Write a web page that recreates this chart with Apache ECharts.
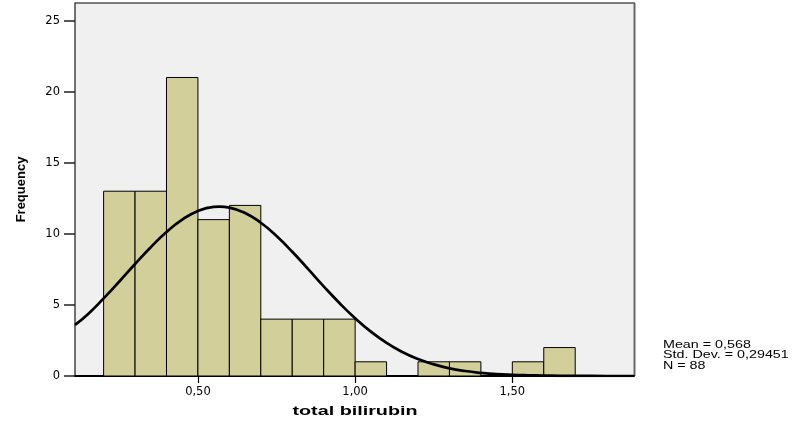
<!DOCTYPE html>
<html><head><meta charset="utf-8">
<script src="https://cdn.jsdelivr.net/npm/echarts@6/dist/echarts.min.js"></script>
<style>html,body{margin:0;padding:0;background:#fff}#c{width:796px;height:427px}</style>
</head><body><div id="c"></div>
<script>
// Histogram bins (lower edge, upper edge) and counts
const binStarts = [0.2,0.3,0.4,0.5,0.6,0.7,0.8,0.9,1.0,1.1,1.2,1.3,1.4,1.5,1.6];
const binEnds   = [0.3,0.4,0.5,0.6,0.7,0.8,0.9,1.0,1.1,1.2,1.3,1.4,1.5,1.6,1.7];
const counts    = [13,13,21,11,12,4,4,4,1,0,1,1,0,1,2];
// Normal curve
const curveX = [0.109,0.15,0.20,0.25,0.30,0.35,0.40,0.45,0.50,0.55,0.568,0.60,0.65,0.70,0.75,0.80,0.85,0.90,0.95,1.00,1.05,1.10,1.15,1.20,1.25,1.30,1.35,1.40,1.45,1.50,1.55,1.60,1.65,1.70,1.80,1.887];
const curveY = [3.60,4.35,5.46,6.65,7.88,9.06,10.13,11.00,11.61,11.90,11.92,11.85,11.47,10.78,9.85,8.74,7.54,6.31,5.14,4.06,3.12,2.33,1.69,1.19,0.82,0.54,0.35,0.22,0.13,0.08,0.05,0.03,0.015,0.01,0.0,0.0];
const xTicks = [0.5,1.0,1.5];
const yTicks = [0,5,10,15,20,25];
const statsLines = ['Mean = 0,568','Std. Dev. = 0,29451','N = 88'];
const xTitle = 'total bilirubin';
const yTitle = 'Frequency';

const barData = binStarts.map((s,i)=>[s,binEnds[i],counts[i]]);
const lineData = curveX.map((x,i)=>[x,curveY[i]]);
const font = '"Liberation Sans", Arial, sans-serif';
const tickFont = '"DejaVu Sans", sans-serif';

const chart = echarts.init(document.getElementById('c'));
chart.setOption({
  animation:false,
  backgroundColor:'#fff',
  grid:{left:75,right:162,top:3,bottom:51,show:true,backgroundColor:'#f0f0f0',borderWidth:0},
  xAxis:{type:'value',min:0.109,max:1.887,
    axisLine:{show:true,onZero:false,lineStyle:{color:'#000',width:2}},
    axisTick:{show:true,length:7,customValues:xTicks,lineStyle:{color:'#000',width:1.2}},
    axisLabel:{customValues:xTicks,fontFamily:tickFont,fontSize:11.5,color:'#000',margin:10,
      formatter:v=>v.toFixed(2).replace('.',',')},
    splitLine:{show:false}},
  yAxis:{type:'value',min:0,max:26.24,
    name:yTitle,nameLocation:'middle',nameGap:47,nameRotate:90,
    nameTextStyle:{fontFamily:font,fontWeight:'bold',fontSize:13,color:'#000'},
    axisLine:{show:true,lineStyle:{color:'#444',width:1.5}},
    axisTick:{show:true,length:11,customValues:yTicks,lineStyle:{color:'#222',width:1.5}},
    axisLabel:{customValues:yTicks,fontFamily:tickFont,fontSize:11.5,color:'#000',margin:15},
    splitLine:{show:false}},
  graphic:[
    {type:'line',shape:{x1:75,y1:3,x2:635,y2:3},style:{stroke:'#000',lineWidth:1}},
    {type:'line',shape:{x1:634.5,y1:3,x2:634.5,y2:376},style:{stroke:'#666',lineWidth:2}},
    {type:'text',x:355,y:412,scaleX:1.58,
     style:{text:xTitle,font:'bold 12.5px '+font,fill:'#000',textAlign:'center',textVerticalAlign:'middle'}},
    {type:'text',x:663,y:340,scaleX:1.3,
     style:{text:statsLines.join('\n'),font:'11px '+font,fill:'#000',lineHeight:10.3}}
  ],
  series:[
    {type:'custom',data:barData,encode:{x:[0,1],y:2},clip:true,
     renderItem:(params,api)=>{
       const p0=api.coord([api.value(0),api.value(2)]);
       const p1=api.coord([api.value(1),0]);
       if(api.value(2)<=0) return null;
       return {type:'rect',shape:{x:p0[0],y:p0[1],width:p1[0]-p0[0],height:p1[1]-p0[1]},
         style:{fill:'#d3cf9a',stroke:'#000',lineWidth:1}};
     }},
    {type:'line',data:lineData,smooth:true,showSymbol:false,symbol:'none',clip:true,
     lineStyle:{color:'#000',width:2.7},z:5}
  ]
});
</script></body></html>
